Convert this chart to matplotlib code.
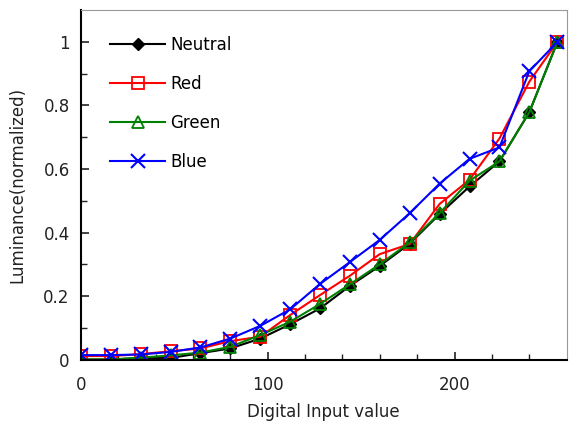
import numpy as np
import matplotlib
matplotlib.use('Agg')
import matplotlib.pyplot as plt

# input levels (markers every 16 steps)
girdi = [0, 16, 32, 48, 64, 80, 96, 112, 128, 144, 160, 176, 192, 208, 224, 240, 255]

neutral = [0.0, 0.0, 0.005, 0.005, 0.02, 0.035, 0.066, 0.111, 0.161, 0.232, 0.295, 0.365, 0.458, 0.545, 0.624, 0.779, 1.0]
red = [0.011, 0.011, 0.017, 0.026, 0.035, 0.058, 0.072, 0.140, 0.203, 0.264, 0.332, 0.364, 0.490, 0.566, 0.696, 0.875, 1.0]
green = [0.0, 0.0, 0.006, 0.013, 0.022, 0.040, 0.077, 0.119, 0.175, 0.237, 0.300, 0.369, 0.461, 0.563, 0.624, 0.779, 1.0]
blue = [0.014, 0.014, 0.016, 0.024, 0.038, 0.066, 0.106, 0.158, 0.238, 0.307, 0.377, 0.461, 0.554, 0.632, 0.668, 0.908, 1.0]

fig = plt.figure(figsize=(5.69, 4.25), dpi=100)
ax = fig.add_axes([0.142, 0.154, 0.854, 0.822])

ax.plot(girdi, neutral, '-', color='black', marker='D', markersize=6.5, linewidth=1.5, label='Neutral')
ax.plot(girdi, red, '-', color='red', marker='s', markersize=8, markerfacecolor='none',
        markeredgewidth=1.3, linewidth=1.5, label='Red')
ax.plot(girdi, green, '-', color='green', marker='^', markersize=8, markerfacecolor='none',
        markeredgewidth=1.3, linewidth=1.5, label='Green')
ax.plot(girdi, blue, '-', color='blue', marker='x', markersize=10,
        markeredgewidth=1.5, linewidth=1.5, label='Blue')

ax.set_xlim(0, 260)
ax.set_ylim(0, 1.1)
ax.set_xticks([0, 100, 200])
ax.set_xticks(np.arange(20, 260, 20), minor=True)
ax.set_yticks([0, 0.2, 0.4, 0.6, 0.8, 1.0])
ax.set_yticklabels(['0', '0.2', '0.4', '0.6', '0.8', '1'])
ax.set_yticks(np.arange(0.1, 1.1, 0.2), minor=True)
ax.tick_params(axis='both', which='both', direction='in', top=False, right=False,
               labelsize=12, colors='#222222')
ax.tick_params(which='major', length=6, width=1.2)
ax.tick_params(which='minor', length=4, width=1.0)
ax.tick_params(axis='x', pad=12)
ax.tick_params(axis='y', pad=8)

ax.spines['left'].set_linewidth(1.5)
ax.spines['bottom'].set_linewidth(1.5)
ax.spines['top'].set_color('#999999')
ax.spines['right'].set_color('#999999')

ax.set_xlabel('Digital Input value', fontsize=12, color='#222222', labelpad=6)
ax.set_ylabel('Luminance(normalized)', fontsize=12, color='#222222', labelpad=12)

ax.legend(loc='upper left', bbox_to_anchor=(0.03, 0.97), frameon=False, fontsize=12,
          handlelength=3.3, handletextpad=0.3, labelspacing=1.27)

fig.savefig('out.png', dpi=100)
